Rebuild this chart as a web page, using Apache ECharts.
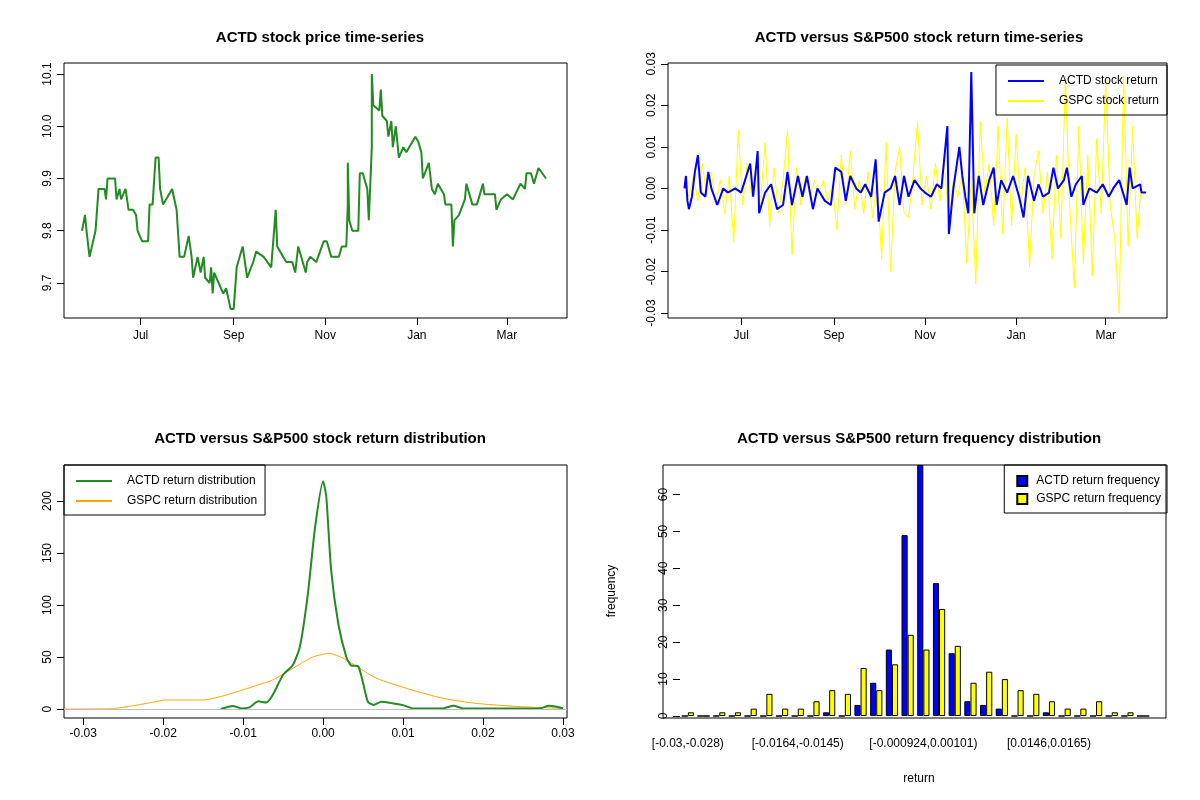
<!DOCTYPE html>
<html>
<head>
<meta charset="utf-8">
<script src="https://cdn.jsdelivr.net/npm/echarts@6/dist/echarts.min.js"></script>
<style>
  html, body { margin: 0; padding: 0; background: #fff; }
  #chart { width: 1200px; height: 800px; }
</style>
</head>
<body>
<div id="chart"></div>
<script>
// days are counted from 2019-07-01
var monthLabels = ['Jul', 'Sep', 'Nov', 'Jan', 'Mar'];
var monthDays = [0, 62, 123, 184, 244];

var priceDays = [-39, -37, -36, -34, -30, -28, -24, -23, -22, -17, -16, -14, -13, -10, -8, -5, -3, -2, 1, 5, 6, 8, 10, 12, 13, 15, 19, 21, 24, 26,
  29, 32, 34, 35, 38, 40, 42, 43, 46, 47, 48, 49, 52, 55, 57, 60, 62, 64, 68, 71, 75, 77, 82, 87, 90, 91, 97, 101, 103, 105,
  110, 111, 113, 117, 122, 124, 127, 132, 134, 137, 138, 138, 139, 141, 145, 146, 148, 151, 152, 153, 154, 154, 155, 159, 160, 161, 164, 165, 167, 168,
  170, 172, 175, 177, 183, 185, 187, 188, 192, 194, 196, 198, 202, 203, 207, 208, 209, 212, 216, 217, 221, 224, 228, 229, 236, 237, 240, 244, 248, 253,
  256, 257, 260, 262, 265, 270];
var priceVals = [9.80, 9.83, 9.80, 9.75, 9.80, 9.88, 9.88, 9.86, 9.90, 9.90, 9.86, 9.88, 9.86, 9.88, 9.84, 9.84, 9.83, 9.80, 9.78, 9.78,
  9.85, 9.85, 9.94, 9.94, 9.88, 9.85, 9.87, 9.88, 9.84, 9.75, 9.75, 9.79, 9.75, 9.71, 9.75, 9.72, 9.75, 9.71, 9.70, 9.73,
  9.68, 9.72, 9.70, 9.68, 9.69, 9.65, 9.65, 9.73, 9.77, 9.71, 9.74, 9.76, 9.75, 9.73, 9.84, 9.77, 9.74, 9.74, 9.72, 9.77,
  9.72, 9.74, 9.75, 9.74, 9.78, 9.78, 9.75, 9.75, 9.77, 9.77, 9.85, 9.93, 9.82, 9.80, 9.80, 9.91, 9.91, 9.88, 9.82, 9.82,
  9.96, 10.10, 10.04, 10.03, 10.07, 10.02, 10.01, 9.98, 10.01, 9.96, 10.00, 9.94, 9.96, 9.95, 9.98, 9.97, 9.95, 9.90, 9.93, 9.88,
  9.87, 9.89, 9.87, 9.85, 9.85, 9.77, 9.82, 9.83, 9.86, 9.89, 9.85, 9.85, 9.89, 9.87, 9.87, 9.84, 9.86, 9.87, 9.86, 9.89,
  9.88, 9.91, 9.91, 9.89, 9.92, 9.90];

var actdRetDays = [-38, -37, -36, -35, -33, -31, -29, -27, -24, -22, -20, -16, -12, -9, -4, 0, 6, 8, 11, 12, 16, 20, 24, 28, 31, 34, 38, 41, 44, 48,
  51, 56, 60, 63, 67, 70, 73, 77, 80, 83, 87, 90, 92, 96, 100, 103, 106, 109, 112, 116, 120, 123, 127, 131, 134, 138, 139, 142, 146, 148,
  150, 152, 154, 156, 159, 162, 166, 169, 171, 174, 178, 182, 186, 189, 192, 196, 199, 202, 206, 209, 212, 216, 218, 221, 224, 228, 229, 233, 238, 242,
  246, 249, 253, 258, 260, 262, 267, 268, 271];
var actdRet = [0, 0.003, -0.003, -0.005, -0.002, 0.004, 0.008, -0.001, -0.002, 0.004, 0, -0.004, 0, -0.001, 0, -0.001, 0.006, -0.002, 0.009, -0.006,
  -0.001, 0.001, -0.005, -0.004, 0.004, -0.004, 0.003, -0.002, 0.003, -0.005, 0, -0.003, -0.004, 0.005, 0.004, -0.003, 0.003, 0, -0.001, 0.001,
  -0.002, 0.007, -0.008, -0.001, 0, 0.003, -0.004, 0.003, -0.002, 0.002, 0, -0.001, -0.002, 0.001, 0, 0.015, -0.011, 0, 0.010, 0.003,
  -0.002, -0.006, 0.028, -0.006, 0.003, -0.004, 0.002, 0.005, -0.004, 0.002, -0.001, 0.003, -0.002, -0.007, 0.003, -0.003, 0.001, -0.002, -0.001, 0.005,
  0, 0.002, 0.005, -0.002, 0.001, 0.003, -0.004, 0, -0.001, 0.001, -0.002, 0, 0.002, -0.004, 0.005, 0, 0.001, -0.001, -0.001];

var gspcRetDays = [-38, -35, -32, -29, -26, -23, -20, -17, -14, -11, -8, -5, -2, 1, 4, 7, 10, 13, 16, 19, 22, 25, 28, 31, 34, 37, 40, 43, 46, 49,
  52, 55, 58, 61, 64, 67, 70, 73, 76, 79, 82, 85, 88, 91, 94, 97, 100, 103, 106, 109, 112, 115, 118, 121, 124, 127, 130, 133, 136, 139,
  142, 145, 148, 151, 154, 157, 160, 163, 166, 169, 172, 175, 178, 181, 184, 187, 190, 193, 196, 199, 202, 205, 208, 211, 214, 217, 220, 223, 226, 229,
  232, 235, 238, 241, 244, 247, 250, 253, 256, 259, 262, 265, 268];
var gspcRet = [0.001, -0.002, 0.003, -0.003, 0.006, -0.002, 0.004, -0.004, 0.002, -0.006, 0.003, -0.013, 0.014, -0.004, 0.006, -0.002, 0.004, -0.003, 0.011, -0.009,
  0.005, -0.006, 0.002, 0.014, -0.016, 0.005, -0.004, 0.003, -0.002, 0.002, -0.001, 0.002, -0.003, 0.001, -0.010, 0.008, -0.004, 0.009, -0.005, 0.002,
  -0.006, 0.004, -0.007, 0.002, -0.017, 0.011, -0.020, 0.004, 0.010, -0.006, -0.007, 0.003, 0.016, -0.004, 0.003, -0.005, 0.006, -0.003, 0.006, -0.008,
  0.002, -0.002, 0.004, -0.018, 0.003, -0.023, 0.016, -0.001, 0.006, -0.009, 0.015, -0.011, 0.017, -0.009, 0.013, -0.004, 0.005, -0.019, 0.003, 0.009,
  -0.006, 0.004, -0.017, 0.008, -0.012, 0.027, -0.005, -0.024, 0.015, -0.018, 0.008, -0.021, 0.012, -0.006, 0.026, -0.004, -0.012, -0.030, 0.027, -0.014,
  0.015, -0.012, 0.002];

var actdDensX = [-0.0128, -0.0113, -0.0102, -0.0092, -0.0081, -0.0071, -0.0063, -0.0050, -0.0038, -0.0029, -0.0019, -0.0010, 0, 0.0004, 0.0010, 0.0019, 0.0029, 0.0035, 0.0044, 0.0050,
  0.0056, 0.0063, 0.0073, 0.0088, 0.0100, 0.0113, 0.0150, 0.0163, 0.0175, 0.0271, 0.0282, 0.0292, 0.0300];
var actdDensY = [0, 3, 0.6, 1.6, 7.4, 6.4, 13.5, 33, 42, 60, 111, 175, 219, 204, 134, 82, 50, 42, 41, 25,
  7, 4, 7, 5.4, 3.8, 0.6, 0.6, 3.2, 0.6, 0.6, 3.2, 2.2, 0.6];
var gspcDensX = [-0.0324, -0.0265, -0.0246, -0.0221, -0.0196, -0.0150, -0.0121, -0.0092, -0.0063, -0.0038, -0.0013, 0.0008, 0.0025, 0.0046, 0.0067, 0.0108, 0.0150, 0.0192, 0.0234, 0.0275, 0.0300];
var gspcDensY = [0, 0.3, 2.2, 5.4, 8.7, 8.7, 13.5, 20.5, 28, 39, 50, 53.5, 49, 39, 29.5, 19, 10.3, 5.4, 2.9, 1.3, 0.6];

var binLabels = ['[-0.03,-0.028)', '[-0.028,-0.0261)', '[-0.0261,-0.0242)', '[-0.0242,-0.0222)', '[-0.0222,-0.0203)', '[-0.0203,-0.0184)',
  '[-0.0184,-0.0164)', '[-0.0164,-0.0145)', '[-0.0145,-0.0125)', '[-0.0125,-0.0106)', '[-0.0106,-0.00867)', '[-0.00867,-0.00673)',
  '[-0.00673,-0.00479)', '[-0.00479,-0.00286)', '[-0.00286,-0.000924)', '[-0.000924,0.00101)', '[0.00101,0.00295)', '[0.00295,0.00489)',
  '[0.00489,0.00682)', '[0.00682,0.00876)', '[0.00876,0.0107)', '[0.0107,0.0126)', '[0.0126,0.0146)', '[0.0146,0.0165)',
  '[0.0165,0.0185)', '[0.0185,0.0204)', '[0.0204,0.0223)', '[0.0223,0.0243)', '[0.0243,0.0262)', '[0.0262,0.0282]'];
var shownBins = [0, 7, 15, 23];
var actdFreq = [0, 0, 0, 0, 0, 0, 0, 0, 0, 1, 0, 3, 9, 18, 49, 68, 36, 17, 4, 3, 2, 0, 0, 1, 0, 0, 0, 0, 0, 0];
var gspcFreq = [1, 0, 1, 1, 2, 6, 2, 2, 4, 7, 6, 13, 7, 14, 22, 18, 29, 19, 9, 12, 10, 7, 6, 4, 2, 2, 4, 1, 1, 0];

function zip(xs, ys) {
  var out = [];
  for (var i = 0; i < xs.length; i++) out.push([xs[i], ys[i]]);
  return out;
}

var font = 'Liberation Sans, Arial, sans-serif';
var tickStyle = { show: true, inside: false, length: 7, lineStyle: { color: '#000' } };
var lblStyle = { color: '#000', fontSize: 12, fontFamily: font };

function monthAxis(idx, min, max) {
  return {
    type: 'value', gridIndex: idx, min: min, max: max,
    splitLine: { show: false }, axisLine: { show: false, onZero: false },
    axisTick: Object.assign({ customValues: monthDays }, tickStyle),
    axisLabel: Object.assign({
      customValues: monthDays, margin: 12,
      formatter: function (v) { return monthLabels[monthDays.indexOf(v)]; }
    }, lblStyle)
  };
}

function valAxis(idx, min, max, ticks, digits, rot) {
  return {
    type: 'value', gridIndex: idx, min: min, max: max,
    splitLine: { show: false }, axisLine: { show: false, onZero: false },
    axisTick: Object.assign({ customValues: ticks }, tickStyle),
    axisLabel: Object.assign({
      customValues: ticks, rotate: rot, margin: 10,
      formatter: function (v) { return v.toFixed(digits); }
    }, lblStyle)
  };
}

function title(text, left, top) {
  return {
    text: text, left: left, top: top, textAlign: 'center',
    textStyle: { fontSize: 15, fontWeight: 'bold', fontFamily: font, color: '#000' }
  };
}

var legendBase = {
  orient: 'vertical', borderColor: '#000', borderWidth: 1, borderRadius: 0,
  padding: [7, 8, 6, 12], itemGap: 4, itemWidth: 36, itemHeight: 2, icon: 'rect',
  textStyle: { fontSize: 12, fontFamily: font, color: '#000', padding: [0, 0, 0, 10] }
};

var chart = echarts.init(document.getElementById('chart'));
var boxGrid = { show: true, borderColor: '#000', borderWidth: 1, containLabel: false };

var option = {
  backgroundColor: '#fff',
  animation: false,
  title: [
    title('ACTD stock price time-series', 315, 25),
    title('ACTD versus S&P500 stock return time-series', 914, 25),
    title('ACTD versus S&P500 stock return distribution', 315, 426),
    title('ACTD versus S&P500 return frequency distribution', 914, 426),
    { text: 'return', left: 914, top: 768, textAlign: 'center', textStyle: { fontSize: 12, fontWeight: 'normal', fontFamily: font, color: '#000' } }
  ],
  graphic: [{
    type: 'text', x: 612, y: 591, rotation: Math.PI / 2,
    style: { text: 'frequency', fontSize: 12, fontFamily: font, fill: '#000', textAlign: 'center', textVerticalAlign: 'middle' }
  }],
  legend: [
    Object.assign({}, legendBase, { data: ['ACTD stock return', 'GSPC stock return'], right: 33, top: 65, padding: [10, 8, 8, 12], itemGap: 8 }),
    Object.assign({}, legendBase, { data: ['ACTD return distribution', 'GSPC return distribution'], left: 64, top: 465, padding: [10, 8, 8, 12], itemGap: 8 }),
    Object.assign({}, legendBase, {
      data: ['ACTD return frequency', 'GSPC return frequency'], right: 33, top: 465,
      itemWidth: 10, itemHeight: 10, padding: [10, 6, 8, 12], itemGap: 6,
      textStyle: { fontSize: 12, fontFamily: font, color: '#000', padding: [0, 0, 0, 4] }
    })
  ],
  grid: [
    Object.assign({ left: 64, top: 63, width: 503, height: 255 }, boxGrid),
    Object.assign({ left: 668, top: 63, width: 499, height: 255 }, boxGrid),
    Object.assign({ left: 64, top: 465, width: 503, height: 253 }, boxGrid),
    Object.assign({ left: 663, top: 465, width: 503, height: 253 }, boxGrid),
    { left: 680, top: 465, width: 471, height: 251, show: false }
  ],
  xAxis: [
    monthAxis(0, -51, 284),
    monthAxis(1, -49, 285),
    valAxis(2, -0.0324, 0.0305, [-0.03, -0.02, -0.01, 0, 0.01, 0.02, 0.03], 2, 0),
    { type: 'value', gridIndex: 3, min: 0, max: 1, show: false },
    {
      type: 'category', gridIndex: 4, data: binLabels,
      axisLine: { show: false }, axisTick: { show: false },
      axisLabel: Object.assign({
        interval: function (i) { return shownBins.indexOf(i) >= 0; }, margin: 22
      }, lblStyle)
    }
  ],
  yAxis: [
    valAxis(0, 9.633, 10.121, [9.7, 9.8, 9.9, 10.0, 10.1], 1, 90),
    valAxis(1, -0.0312, 0.0302, [-0.03, -0.02, -0.01, 0, 0.01, 0.02, 0.03], 2, 90),
    valAxis(2, -8.6, 234.6, [0, 50, 100, 150, 200], 0, 90),
    { type: 'value', gridIndex: 3, min: 0, max: 1, show: false },
    valAxis(4, 0, 68, [0, 10, 20, 30, 40, 50, 60], 0, 90)
  ],
  series: [
    {
      name: 'ACTD price', type: 'line', xAxisIndex: 0, yAxisIndex: 0,
      symbol: 'none', data: zip(priceDays, priceVals), lineStyle: { color: '#228B22', width: 2 }
    },
    {
      name: 'GSPC stock return', type: 'line', xAxisIndex: 1, yAxisIndex: 1,
      symbol: 'none', data: zip(gspcRetDays, gspcRet), color: '#FFFF00', lineStyle: { color: '#FFFF00', width: 1 }
    },
    {
      name: 'ACTD stock return', type: 'line', xAxisIndex: 1, yAxisIndex: 1,
      symbol: 'none', data: zip(actdRetDays, actdRet), color: '#0000FF', lineStyle: { color: '#0000FF', width: 2 }
    },
    {
      name: 'GSPC return distribution', type: 'line', xAxisIndex: 2, yAxisIndex: 2, smooth: 0.2,
      symbol: 'none', data: zip(gspcDensX, gspcDensY), color: '#FFA500', lineStyle: { color: '#FFA500', width: 1 },
      markLine: {
        silent: true, symbol: 'none', label: { show: false },
        lineStyle: { color: '#BEBEBE', type: 'solid', width: 1 },
        data: [{ yAxis: 0 }]
      }
    },
    {
      name: 'ACTD return distribution', type: 'line', xAxisIndex: 2, yAxisIndex: 2, smooth: 0.2,
      symbol: 'none', data: zip(actdDensX, actdDensY), color: '#228B22', lineStyle: { color: '#228B22', width: 2 }
    },
    {
      name: 'ACTD return frequency', type: 'bar', xAxisIndex: 4, yAxisIndex: 4,
      data: actdFreq, barGap: '0%', barCategoryGap: '22%', clip: true,
      itemStyle: { color: '#0000FF', borderColor: '#000', borderWidth: 1 }
    },
    {
      name: 'GSPC return frequency', type: 'bar', xAxisIndex: 4, yAxisIndex: 4,
      data: gspcFreq, barGap: '0%', barCategoryGap: '22%', clip: true,
      itemStyle: { color: '#FFFF00', borderColor: '#000', borderWidth: 1 }
    }
  ]
};
chart.setOption(option);
</script>
</body>
</html>
